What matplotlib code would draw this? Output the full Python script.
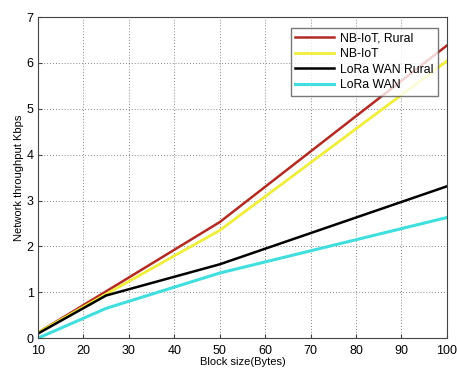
import matplotlib
matplotlib.use('Agg')
import matplotlib.pyplot as plt

block_size = [10, 25, 50, 100]
nbiot_rural = [0.12, 1.02, 2.53, 6.38]
nbiot = [0.12, 0.96, 2.35, 6.04]
lora_rural = [0.10, 0.93, 1.61, 3.31]
lora = [0.0, 0.65, 1.42, 2.63]

plt.rcParams['font.family'] = ['Liberation Sans', 'DejaVu Sans']

fig = plt.figure(figsize=(4.57, 3.70), dpi=100)
ax = fig.add_axes([0.083, 0.086, 0.895, 0.868])

ax.plot(block_size, nbiot_rural, color='#b22a22', lw=1.8, label='NB-IoT, Rural')
ax.plot(block_size, nbiot, color='#f0ee3a', lw=2.0, label='NB-IoT')
ax.plot(block_size, lora_rural, color='black', lw=1.8, label='LoRa WAN Rural')
ax.plot(block_size, lora, color='#40dede', lw=2.2, label='LoRa WAN')

ax.set_xlim(10, 100)
ax.set_ylim(0, 7)
ax.set_xticks(range(10, 101, 10))
ax.set_yticks(range(0, 8))
ax.tick_params(labelsize=9, direction='in', length=3, color='#444444')
ax.tick_params(axis='x', pad=5)
ax.tick_params(axis='y', pad=3)
ax.grid(True, linestyle=(0, (1, 2.5)), color='#333333', linewidth=0.6, alpha=0.8)
for s in ax.spines.values():
    s.set_color('#444444')

ax.set_xlabel('Block size(Bytes)', fontsize=8, labelpad=0)
ax.set_ylabel('Network throughput Kbps', fontsize=8, labelpad=2)

leg = ax.legend(loc='upper right', fontsize=8.8, frameon=True, fancybox=False,
                edgecolor='#555555', handlelength=3.2, borderpad=0.35,
                labelspacing=0.3, handletextpad=0.5,
                bbox_to_anchor=(0.993, 0.985))
leg.get_frame().set_linewidth(1.0)

plt.savefig('out.png', dpi=100)
